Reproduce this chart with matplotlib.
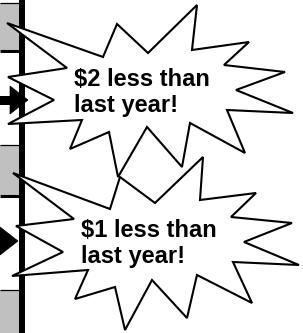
import matplotlib
matplotlib.use("Agg")
import matplotlib.pyplot as plt
from matplotlib.patches import Polygon, Rectangle

# ---- data ----
burst1_x = [7, 103, 117, 148, 197, 192, 249, 224, 285, 236, 293, 227, 245, 190, 182, 147, 118, 109, 70, 82, 8, 54, 8, 67]
burst1_y = [23, 57, 24, 53, 5, 50, 42, 65, 72, 90, 113, 110, 153, 123, 167, 127, 177, 132, 149, 120, 124, 100, 77, 68]
burst2_x = [13, 110, 120, 155, 203, 200, 256, 231, 292, 244, 299, 233, 252, 197, 187, 152, 125, 115, 75, 88, 12, 63, 16, 74]
burst2_y = [173, 209, 177, 203, 157, 200, 193, 217, 223, 242, 265, 262, 303, 275, 318, 280, 330, 287, 299, 270, 276, 252, 226, 219]
burst_lines = [["$2 less than", "last year!"], ["$1 less than", "last year!"]]
text_x = [74, 81]
text_baselines = [[86, 112], [237, 263]]
gray_rows = [(3, 50), (145, 195), (290, 340)]
arrow_tips = [(28, 100), (18, 241)]

W, H = 303, 333
fig = plt.figure(figsize=(W / 100, H / 100), dpi=100)
ax = fig.add_axes([0, 0, 1, 1])
ax.set_xlim(0, W)
ax.set_ylim(H, 0)
ax.axis("off")

# left column: gray rows and black borders
for top, bot in gray_rows:
    ax.add_patch(Rectangle((0, top), 19.5, bot - top, facecolor="#c0c0c0", edgecolor="none", zorder=1))
    ax.plot([0, 20], [top, top], color="black", lw=0.9, solid_capstyle="butt", zorder=2)
    ax.plot([0, 20], [bot + 0.5, bot + 0.5], color="black", lw=2.2, solid_capstyle="butt", zorder=2)
ax.plot([22, 22], [0, H], color="black", lw=4.3, solid_capstyle="butt", zorder=2)

# arrows
for tx, ty in arrow_tips:
    head = Polygon([(tx - 18, ty - 14), (tx, ty), (tx - 18, ty + 14)], closed=True,
                   facecolor="black", edgecolor="black", lw=0.5, zorder=3)
    ax.add_patch(head)
    ax.add_patch(Rectangle((-5, ty - 4.5), tx - 18 + 5.5, 9, facecolor="black", edgecolor="none", zorder=3))

# starbursts
for i, (bx, by) in enumerate([(burst1_x, burst1_y), (burst2_x, burst2_y)]):
    poly = Polygon(list(zip(bx, by)), closed=True, facecolor="white", edgecolor="black",
                   lw=1.5, joinstyle="miter", zorder=4 + 2 * i)
    ax.add_patch(poly)
    for line, yb in zip(burst_lines[i], text_baselines[i]):
        ax.text(text_x[i], yb, line, fontsize=17, fontweight="bold", family="Liberation Sans",
                ha="left", va="baseline", color="black", zorder=5 + 2 * i)

fig.savefig("out.png", dpi=100)
